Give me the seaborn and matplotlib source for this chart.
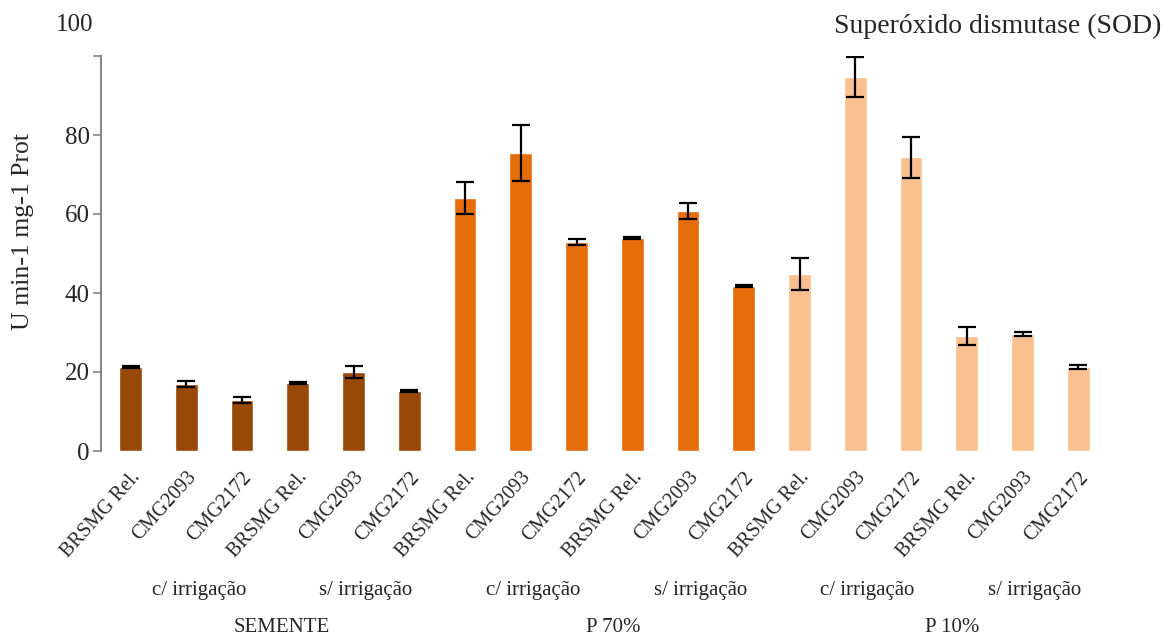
import matplotlib
matplotlib.use("Agg")
import matplotlib.pyplot as plt
import matplotlib.transforms as mtransforms
import seaborn as sns
import pandas as pd
import numpy as np

# ---- data ----
cultivars = ["BRSMG Rel.", "CMG2093", "CMG2172"] * 6
irrigation = ["c/ irrigação", "s/ irrigação"] * 3
groups = ["SEMENTE", "P 70%", "P 10%"]
values = [21.3, 17.0, 12.9, 17.2, 20.0, 15.2,
          64.0, 75.4, 52.9, 53.9, 60.8, 41.8,
          44.8, 94.7, 74.4, 29.1, 29.6, 21.3]
errors = [0.3, 0.7, 0.85, 0.3, 1.5, 0.2,
          4.0, 7.1, 0.85, 0.2, 2.1, 0.2,
          4.0, 5.0, 5.2, 2.2, 0.6, 0.55]
group_of_bar = [g for g in groups for _ in range(6)]
yticks = [0, 20, 40, 60, 80, 100]
ytick_labels = ["0", "20", "40", "60", "80", ""]
colors = {"SEMENTE": "#984807", "P 70%": "#E46C0A", "P 10%": "#FAC090"}

df = pd.DataFrame({
    "id": [f"b{i}" for i in range(len(values))],
    "cultivar": cultivars,
    "value": values,
    "err": errors,
    "group": group_of_bar,
})

W, H = 1173, 636
fig = plt.figure(figsize=(W / 100, H / 100), dpi=100)
sns.set_style("white")
plt.rcParams["font.family"] = ["Liberation Serif", "DejaVu Serif"]

AX_L = 101
ax = fig.add_axes([AX_L / W, 1 - 451 / H, 1010 / W, (451 - 56) / H])
sns.barplot(data=df, x="id", y="value", hue="group", palette=colors,
            dodge=False, width=0.41, errorbar=None, legend=False, ax=ax,
            saturation=1)
xpos = np.arange(len(values))
ax.errorbar(xpos, df["value"], yerr=df["err"], fmt="none", ecolor="black",
            elinewidth=1.6, capsize=6.5, capthick=1.6)

ax.set_xlim(-(130.5 - AX_L) / 55.75, -(130.5 - AX_L) / 55.75 + 1010 / 55.75)
ax.set_ylim(0, 100)
ax.set_yticks(yticks)
ax.set_yticklabels(ytick_labels, fontsize=18, family="Liberation Serif")
ax.set_xticks(xpos)
ax.set_xticklabels(cultivars, rotation=48, ha="right", va="center",
                   rotation_mode="anchor", fontsize=14.5,
                   family="Liberation Serif")
ax.tick_params(axis="x", length=0, pad=14)
offset = mtransforms.ScaledTranslation(7 / 100, -4 / 100, fig.dpi_scale_trans)
for lbl in ax.get_xticklabels():
    lbl.set_transform(lbl.get_transform() + offset)
ax.tick_params(axis="y", length=6, width=1.2, color="#888888", pad=2,
               direction="out", left=True)
ax.set_xlabel("")
ax.set_ylabel("U min-1 mg-1 Prot", fontsize=18.5, family="Liberation Serif")
ax.yaxis.set_label_coords(-(AX_L - 34) / 1010, (451 - 232) / 395)
for s in ["top", "right", "bottom"]:
    ax.spines[s].set_visible(False)
ax.spines["left"].set_color("#888888")
ax.spines["left"].set_linewidth(1.5)

# "100" label and title
fig.text(75 / W, 1 - 25 / H, "100", ha="center", va="center", fontsize=18)
fig.text(1161 / W, 1 - 26 / H, "Superóxido dismutase (SOD)", ha="right",
         va="center", fontsize=20)

# grouping labels (pixel positions)
irr_px = [199, 366, 533, 701, 867, 1035]
for lab, px in zip(irrigation, irr_px):
    fig.text(px / W, 1 - 590 / H, lab, ha="center", va="center", fontsize=15)
grp_px = [282, 613, 952]
for lab, px in zip(groups, grp_px):
    fig.text(px / W, 1 - 627 / H, lab, ha="center", va="center", fontsize=15)

fig.savefig("out.png", dpi=100)
